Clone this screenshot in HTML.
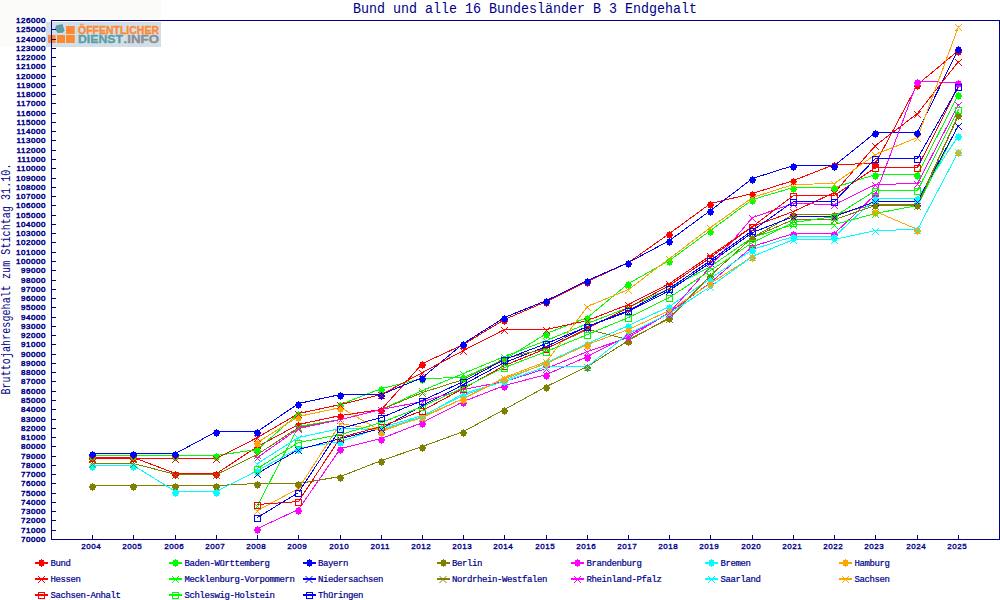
<!DOCTYPE html>
<html><head><meta charset="utf-8"><style>
html,body{margin:0;padding:0;background:#fff;}
body{width:1000px;height:600px;position:relative;overflow:hidden;font-family:"Liberation Mono",monospace;color:#000088;}
.title{position:absolute;left:0;width:1050px;top:0.7px;text-align:center;font-size:13.33px;line-height:16px;white-space:nowrap;transform:scaleY(1.1);transform-origin:0 0;}
.ytitle{position:absolute;left:8px;top:279px;width:300px;margin-left:-150px;margin-top:-8px;text-align:center;font-size:10px;letter-spacing:0.08px;line-height:16px;transform:rotate(-90deg) scaleY(1.2);white-space:nowrap;}
.yl{position:absolute;left:0;width:46px;text-align:right;font-family:"Liberation Sans",sans-serif;font-size:8px;letter-spacing:0.55px;font-weight:normal;-webkit-text-stroke:0.5px #000088;line-height:10px;}
.xl{position:absolute;top:542px;width:30px;text-align:center;font-family:"Liberation Sans",sans-serif;font-size:8px;letter-spacing:0.55px;font-weight:normal;-webkit-text-stroke:0.35px #000088;line-height:10px;}
.lt{position:absolute;font-size:9px;letter-spacing:-0.4px;font-weight:normal;-webkit-text-stroke:0.2px #000088;line-height:10px;white-space:nowrap;}
svg{position:absolute;left:0;top:0;}
</style></head><body>
<svg width="1000" height="600" viewBox="0 0 1000 600" style="position:absolute;left:0;top:0">
<rect x="0" y="0" width="161" height="47" fill="#fbfcfa"/><rect x="46" y="22" width="115" height="25" fill="#d3dfe6"/>
<rect x="66" y="26" width="8.7" height="8" fill="#ff8833"/>
<rect x="48" y="35" width="7.6" height="8" fill="#ff8833"/>
<rect x="57" y="35" width="8" height="8" fill="#ff8833"/>
<rect x="66" y="35" width="8.7" height="8" fill="#ff8833"/>
<path d="M56 25.5L62.5 24L64.5 30.5L63 32.7L57.5 33L55 29z" fill="#5b9ea8"/>
<text x="78" y="34" font-family="Liberation Sans" font-weight="bold" font-size="11" fill="#ff8833" stroke="#ff8833" stroke-width="0.35" textLength="81" lengthAdjust="spacingAndGlyphs">ÖFFENTLICHER</text>
<text x="78" y="43" font-family="Liberation Sans" font-weight="bold" font-size="11" fill="#5b9ea8" stroke="#5b9ea8" stroke-width="0.35" textLength="45" lengthAdjust="spacingAndGlyphs">DIENST</text>
<text x="123.5" y="43" font-family="Liberation Sans" font-weight="bold" font-size="11" fill="#8c8f94" stroke="#8c8f94" stroke-width="0.35" textLength="35.5" lengthAdjust="spacingAndGlyphs">.INFO</text>
</svg>
<svg width="1000" height="600" viewBox="0 0 1000 600">
<defs>
<path id="fc" d="M-0.5 -4h1v1h2v2h1v2h-1v2h-2v1h-1v-1h-2v-2h-1v-2h1v-2h2z" shape-rendering="crispEdges"/>
<path id="mx" d="M-3.5 -3.5h1v1h-1zM-3.5 2.5h1v1h-1zM-2.5 -2.5h1v1h-1zM-2.5 1.5h1v1h-1zM-1.5 -1.5h1v1h-1zM-1.5 0.5h1v1h-1zM-0.5 -0.5h1v1h-1zM0.5 0.5h1v1h-1zM0.5 -1.5h1v1h-1zM1.5 1.5h1v1h-1zM1.5 -2.5h1v1h-1zM2.5 2.5h1v1h-1zM2.5 -3.5h1v1h-1z" shape-rendering="crispEdges"/>
<rect id="sq" x="-3" y="-3" width="6" height="6" fill="none" stroke-width="1" shape-rendering="crispEdges"/>
</defs>
<rect x="51.5" y="20.5" width="948" height="519" fill="none" stroke="#000088" stroke-width="1" shape-rendering="crispEdges"/>
<line x1="52" y1="539.5" x2="56" y2="539.5" stroke="#000088" stroke-width="1" shape-rendering="crispEdges"/><line x1="52" y1="530.5" x2="56" y2="530.5" stroke="#000088" stroke-width="1" shape-rendering="crispEdges"/><line x1="52" y1="520.5" x2="56" y2="520.5" stroke="#000088" stroke-width="1" shape-rendering="crispEdges"/><line x1="52" y1="511.5" x2="56" y2="511.5" stroke="#000088" stroke-width="1" shape-rendering="crispEdges"/><line x1="52" y1="502.5" x2="56" y2="502.5" stroke="#000088" stroke-width="1" shape-rendering="crispEdges"/><line x1="52" y1="493.5" x2="56" y2="493.5" stroke="#000088" stroke-width="1" shape-rendering="crispEdges"/><line x1="52" y1="483.5" x2="56" y2="483.5" stroke="#000088" stroke-width="1" shape-rendering="crispEdges"/><line x1="52" y1="474.5" x2="56" y2="474.5" stroke="#000088" stroke-width="1" shape-rendering="crispEdges"/><line x1="52" y1="465.5" x2="56" y2="465.5" stroke="#000088" stroke-width="1" shape-rendering="crispEdges"/><line x1="52" y1="456.5" x2="56" y2="456.5" stroke="#000088" stroke-width="1" shape-rendering="crispEdges"/><line x1="52" y1="446.5" x2="56" y2="446.5" stroke="#000088" stroke-width="1" shape-rendering="crispEdges"/><line x1="52" y1="437.5" x2="56" y2="437.5" stroke="#000088" stroke-width="1" shape-rendering="crispEdges"/><line x1="52" y1="428.5" x2="56" y2="428.5" stroke="#000088" stroke-width="1" shape-rendering="crispEdges"/><line x1="52" y1="419.5" x2="56" y2="419.5" stroke="#000088" stroke-width="1" shape-rendering="crispEdges"/><line x1="52" y1="409.5" x2="56" y2="409.5" stroke="#000088" stroke-width="1" shape-rendering="crispEdges"/><line x1="52" y1="400.5" x2="56" y2="400.5" stroke="#000088" stroke-width="1" shape-rendering="crispEdges"/><line x1="52" y1="391.5" x2="56" y2="391.5" stroke="#000088" stroke-width="1" shape-rendering="crispEdges"/><line x1="52" y1="381.5" x2="56" y2="381.5" stroke="#000088" stroke-width="1" shape-rendering="crispEdges"/><line x1="52" y1="372.5" x2="56" y2="372.5" stroke="#000088" stroke-width="1" shape-rendering="crispEdges"/><line x1="52" y1="363.5" x2="56" y2="363.5" stroke="#000088" stroke-width="1" shape-rendering="crispEdges"/><line x1="52" y1="354.5" x2="56" y2="354.5" stroke="#000088" stroke-width="1" shape-rendering="crispEdges"/><line x1="52" y1="344.5" x2="56" y2="344.5" stroke="#000088" stroke-width="1" shape-rendering="crispEdges"/><line x1="52" y1="335.5" x2="56" y2="335.5" stroke="#000088" stroke-width="1" shape-rendering="crispEdges"/><line x1="52" y1="326.5" x2="56" y2="326.5" stroke="#000088" stroke-width="1" shape-rendering="crispEdges"/><line x1="52" y1="317.5" x2="56" y2="317.5" stroke="#000088" stroke-width="1" shape-rendering="crispEdges"/><line x1="52" y1="307.5" x2="56" y2="307.5" stroke="#000088" stroke-width="1" shape-rendering="crispEdges"/><line x1="52" y1="298.5" x2="56" y2="298.5" stroke="#000088" stroke-width="1" shape-rendering="crispEdges"/><line x1="52" y1="289.5" x2="56" y2="289.5" stroke="#000088" stroke-width="1" shape-rendering="crispEdges"/><line x1="52" y1="280.5" x2="56" y2="280.5" stroke="#000088" stroke-width="1" shape-rendering="crispEdges"/><line x1="52" y1="270.5" x2="56" y2="270.5" stroke="#000088" stroke-width="1" shape-rendering="crispEdges"/><line x1="52" y1="261.5" x2="56" y2="261.5" stroke="#000088" stroke-width="1" shape-rendering="crispEdges"/><line x1="52" y1="252.5" x2="56" y2="252.5" stroke="#000088" stroke-width="1" shape-rendering="crispEdges"/><line x1="52" y1="242.5" x2="56" y2="242.5" stroke="#000088" stroke-width="1" shape-rendering="crispEdges"/><line x1="52" y1="233.5" x2="56" y2="233.5" stroke="#000088" stroke-width="1" shape-rendering="crispEdges"/><line x1="52" y1="224.5" x2="56" y2="224.5" stroke="#000088" stroke-width="1" shape-rendering="crispEdges"/><line x1="52" y1="215.5" x2="56" y2="215.5" stroke="#000088" stroke-width="1" shape-rendering="crispEdges"/><line x1="52" y1="205.5" x2="56" y2="205.5" stroke="#000088" stroke-width="1" shape-rendering="crispEdges"/><line x1="52" y1="196.5" x2="56" y2="196.5" stroke="#000088" stroke-width="1" shape-rendering="crispEdges"/><line x1="52" y1="187.5" x2="56" y2="187.5" stroke="#000088" stroke-width="1" shape-rendering="crispEdges"/><line x1="52" y1="178.5" x2="56" y2="178.5" stroke="#000088" stroke-width="1" shape-rendering="crispEdges"/><line x1="52" y1="168.5" x2="56" y2="168.5" stroke="#000088" stroke-width="1" shape-rendering="crispEdges"/><line x1="52" y1="159.5" x2="56" y2="159.5" stroke="#000088" stroke-width="1" shape-rendering="crispEdges"/><line x1="52" y1="150.5" x2="56" y2="150.5" stroke="#000088" stroke-width="1" shape-rendering="crispEdges"/><line x1="52" y1="140.5" x2="56" y2="140.5" stroke="#000088" stroke-width="1" shape-rendering="crispEdges"/><line x1="52" y1="131.5" x2="56" y2="131.5" stroke="#000088" stroke-width="1" shape-rendering="crispEdges"/><line x1="52" y1="122.5" x2="56" y2="122.5" stroke="#000088" stroke-width="1" shape-rendering="crispEdges"/><line x1="52" y1="113.5" x2="56" y2="113.5" stroke="#000088" stroke-width="1" shape-rendering="crispEdges"/><line x1="52" y1="103.5" x2="56" y2="103.5" stroke="#000088" stroke-width="1" shape-rendering="crispEdges"/><line x1="52" y1="94.5" x2="56" y2="94.5" stroke="#000088" stroke-width="1" shape-rendering="crispEdges"/><line x1="52" y1="85.5" x2="56" y2="85.5" stroke="#000088" stroke-width="1" shape-rendering="crispEdges"/><line x1="52" y1="76.5" x2="56" y2="76.5" stroke="#000088" stroke-width="1" shape-rendering="crispEdges"/><line x1="52" y1="66.5" x2="56" y2="66.5" stroke="#000088" stroke-width="1" shape-rendering="crispEdges"/><line x1="52" y1="57.5" x2="56" y2="57.5" stroke="#000088" stroke-width="1" shape-rendering="crispEdges"/><line x1="52" y1="48.5" x2="56" y2="48.5" stroke="#000088" stroke-width="1" shape-rendering="crispEdges"/><line x1="52" y1="39.5" x2="56" y2="39.5" stroke="#000088" stroke-width="1" shape-rendering="crispEdges"/><line x1="52" y1="29.5" x2="56" y2="29.5" stroke="#000088" stroke-width="1" shape-rendering="crispEdges"/><line x1="52" y1="20.5" x2="56" y2="20.5" stroke="#000088" stroke-width="1" shape-rendering="crispEdges"/><line x1="92.5" y1="535" x2="92.5" y2="539" stroke="#000088" stroke-width="1" shape-rendering="crispEdges"/><line x1="133.5" y1="535" x2="133.5" y2="539" stroke="#000088" stroke-width="1" shape-rendering="crispEdges"/><line x1="175.5" y1="535" x2="175.5" y2="539" stroke="#000088" stroke-width="1" shape-rendering="crispEdges"/><line x1="216.5" y1="535" x2="216.5" y2="539" stroke="#000088" stroke-width="1" shape-rendering="crispEdges"/><line x1="257.5" y1="535" x2="257.5" y2="539" stroke="#000088" stroke-width="1" shape-rendering="crispEdges"/><line x1="298.5" y1="535" x2="298.5" y2="539" stroke="#000088" stroke-width="1" shape-rendering="crispEdges"/><line x1="340.5" y1="535" x2="340.5" y2="539" stroke="#000088" stroke-width="1" shape-rendering="crispEdges"/><line x1="381.5" y1="535" x2="381.5" y2="539" stroke="#000088" stroke-width="1" shape-rendering="crispEdges"/><line x1="422.5" y1="535" x2="422.5" y2="539" stroke="#000088" stroke-width="1" shape-rendering="crispEdges"/><line x1="463.5" y1="535" x2="463.5" y2="539" stroke="#000088" stroke-width="1" shape-rendering="crispEdges"/><line x1="504.5" y1="535" x2="504.5" y2="539" stroke="#000088" stroke-width="1" shape-rendering="crispEdges"/><line x1="546.5" y1="535" x2="546.5" y2="539" stroke="#000088" stroke-width="1" shape-rendering="crispEdges"/><line x1="587.5" y1="535" x2="587.5" y2="539" stroke="#000088" stroke-width="1" shape-rendering="crispEdges"/><line x1="628.5" y1="535" x2="628.5" y2="539" stroke="#000088" stroke-width="1" shape-rendering="crispEdges"/><line x1="669.5" y1="535" x2="669.5" y2="539" stroke="#000088" stroke-width="1" shape-rendering="crispEdges"/><line x1="710.5" y1="535" x2="710.5" y2="539" stroke="#000088" stroke-width="1" shape-rendering="crispEdges"/><line x1="752.5" y1="535" x2="752.5" y2="539" stroke="#000088" stroke-width="1" shape-rendering="crispEdges"/><line x1="793.5" y1="535" x2="793.5" y2="539" stroke="#000088" stroke-width="1" shape-rendering="crispEdges"/><line x1="834.5" y1="535" x2="834.5" y2="539" stroke="#000088" stroke-width="1" shape-rendering="crispEdges"/><line x1="875.5" y1="535" x2="875.5" y2="539" stroke="#000088" stroke-width="1" shape-rendering="crispEdges"/><line x1="917.5" y1="535" x2="917.5" y2="539" stroke="#000088" stroke-width="1" shape-rendering="crispEdges"/><line x1="958.5" y1="535" x2="958.5" y2="539" stroke="#000088" stroke-width="1" shape-rendering="crispEdges"/>
<path d="M92.5 457.5 L133.5 457.5 L175.5 473.5 L216.5 473.5 L257.5 446.5 L298.5 424.5 L340.5 415.5 L381.5 409.5 L422.5 363.5 L463.5 344.5 L504.5 319.5 L546.5 301.5 L587.5 281.5 L628.5 262.5 L669.5 233.5 L710.5 203.5 L752.5 193.5 L793.5 180.5 L834.5 164.5 L875.5 163.5 L917.5 84.5 L958.5 50.5 " stroke="#ff0000" stroke-width="1" fill="none" shape-rendering="crispEdges"/><path d="M92.5 455.5 L133.5 455.5 L175.5 455.5 L216.5 455.5 L257.5 449.5 L298.5 413.5 L340.5 404.5 L381.5 388.5 L422.5 378.5 L463.5 377.5 L504.5 359.5 L546.5 333.5 L587.5 317.5 L628.5 283.5 L669.5 260.5 L710.5 230.5 L752.5 199.5 L793.5 187.5 L834.5 187.5 L875.5 174.5 L917.5 174.5 L958.5 94.5 " stroke="#00ff00" stroke-width="1" fill="none" shape-rendering="crispEdges"/><path d="M92.5 453.5 L133.5 453.5 L175.5 453.5 L216.5 431.5 L257.5 431.5 L298.5 403.5 L340.5 394.5 L381.5 394.5 L422.5 377.5 L463.5 343.5 L504.5 317.5 L546.5 300.5 L587.5 280.5 L628.5 262.5 L669.5 240.5 L710.5 210.5 L752.5 178.5 L793.5 165.5 L834.5 165.5 L875.5 132.5 L917.5 132.5 L958.5 48.5 " stroke="#0000ff" stroke-width="1" fill="none" shape-rendering="crispEdges"/><path d="M92.5 485.5 L133.5 485.5 L175.5 485.5 L216.5 485.5 L257.5 483.5 L298.5 483.5 L340.5 476.5 L381.5 460.5 L422.5 446.5 L463.5 431.5 L504.5 409.5 L546.5 386.5 L587.5 366.5 L628.5 340.5 L669.5 317.5 L710.5 275.5 L752.5 237.5 L793.5 214.5 L834.5 214.5 L875.5 204.5 L917.5 204.5 L958.5 114.5 " stroke="#808000" stroke-width="1" fill="none" shape-rendering="crispEdges"/><path d="M257.5 528.5 L298.5 509.5 L340.5 448.5 L381.5 438.5 L422.5 422.5 L463.5 401.5 L504.5 385.5 L546.5 374.5 L587.5 356.5 L628.5 335.5 L669.5 312.5 L710.5 282.5 L752.5 246.5 L793.5 233.5 L834.5 233.5 L875.5 194.5 L917.5 81.5 L958.5 82.5 " stroke="#ff00ff" stroke-width="1" fill="none" shape-rendering="crispEdges"/><path d="M92.5 465.5 L133.5 465.5 L175.5 491.5 L216.5 491.5 L257.5 470.5 L298.5 448.5 L340.5 441.5 L381.5 427.5 L422.5 415.5 L463.5 395.5 L504.5 380.5 L546.5 362.5 L587.5 343.5 L628.5 325.5 L669.5 306.5 L710.5 278.5 L752.5 249.5 L793.5 236.5 L834.5 236.5 L875.5 198.5 L917.5 198.5 L958.5 135.5 " stroke="#00ffff" stroke-width="1" fill="none" shape-rendering="crispEdges"/><path d="M257.5 442.5 L298.5 416.5 L340.5 407.5 L381.5 431.5 L422.5 416.5 L463.5 398.5 L504.5 378.5 L546.5 363.5 L587.5 344.5 L628.5 329.5 L669.5 310.5 L710.5 283.5 L752.5 256.5 M875.5 211.5 L917.5 229.5 L958.5 151.5 " stroke="#ffa500" stroke-width="1" fill="none" shape-rendering="crispEdges"/><path d="M92.5 458.5 L133.5 458.5 L175.5 458.5 L216.5 458.5 L257.5 437.5 L298.5 413.5 L340.5 404.5 L381.5 394.5 L422.5 372.5 L463.5 350.5 L504.5 329.5 L546.5 329.5 L587.5 320.5 L628.5 304.5 L669.5 283.5 L710.5 255.5 L752.5 226.5 L793.5 211.5 L834.5 192.5 L875.5 145.5 L917.5 113.5 L958.5 61.5 " stroke="#ff0000" stroke-width="1" fill="none" shape-rendering="crispEdges"/><path d="M257.5 505.5 L298.5 426.5 L340.5 419.5 L381.5 409.5 L422.5 390.5 L463.5 373.5 L504.5 356.5 L546.5 340.5 L587.5 323.5 L628.5 307.5 L669.5 288.5 L710.5 266.5 L752.5 237.5 L793.5 224.5 L834.5 224.5 L875.5 213.5 L917.5 205.5 L958.5 125.5 " stroke="#00ff00" stroke-width="1" fill="none" shape-rendering="crispEdges"/><path d="M257.5 473.5 L298.5 449.5 L340.5 438.5 L381.5 428.5 L422.5 405.5 L463.5 384.5 L504.5 362.5 L546.5 346.5 L587.5 326.5 L628.5 311.5 L669.5 290.5 L710.5 262.5 L752.5 232.5 L793.5 216.5 L834.5 216.5 L875.5 201.5 L917.5 201.5 L958.5 125.5 " stroke="#0000ff" stroke-width="1" fill="none" shape-rendering="crispEdges"/><path d="M92.5 463.5 L133.5 463.5 L175.5 474.5 L216.5 474.5 L257.5 454.5 L298.5 427.5 L340.5 419.5 L381.5 409.5 L422.5 392.5 L463.5 379.5 L504.5 358.5 L546.5 348.5 L587.5 329.5 L628.5 339.5 L669.5 318.5 L710.5 275.5 L752.5 237.5 L793.5 219.5 L834.5 219.5 L875.5 205.5 L917.5 205.5 L958.5 115.5 " stroke="#808000" stroke-width="1" fill="none" shape-rendering="crispEdges"/><path d="M257.5 457.5 L298.5 428.5 L340.5 419.5 L381.5 409.5 L422.5 401.5 L463.5 389.5 L504.5 381.5 L546.5 368.5 L587.5 351.5 L628.5 337.5 L669.5 312.5 L710.5 266.5 L752.5 217.5 L793.5 203.5 L834.5 204.5 L875.5 184.5 L917.5 183.5 L958.5 104.5 " stroke="#ff00ff" stroke-width="1" fill="none" shape-rendering="crispEdges"/><path d="M257.5 463.5 L298.5 437.5 L340.5 428.5 L381.5 429.5 L422.5 416.5 L463.5 393.5 L504.5 381.5 L546.5 366.5 L587.5 366.5 L628.5 333.5 L669.5 313.5 L710.5 286.5 L752.5 256.5 L793.5 239.5 L834.5 239.5 L875.5 230.5 L917.5 229.5 L958.5 151.5 " stroke="#00ffff" stroke-width="1" fill="none" shape-rendering="crispEdges"/><path d="M257.5 510.5 L298.5 488.5 L340.5 423.5 L381.5 430.5 L422.5 417.5 L463.5 398.5 L504.5 377.5 L546.5 361.5 L587.5 306.5 L628.5 289.5 L669.5 258.5 L710.5 227.5 L752.5 197.5 L793.5 184.5 L834.5 183.5 L875.5 154.5 L917.5 137.5 L958.5 26.5 " stroke="#ffa500" stroke-width="1" fill="none" shape-rendering="crispEdges"/><path d="M257.5 504.5 L298.5 501.5 L340.5 437.5 L381.5 426.5 L422.5 410.5 L463.5 388.5 L504.5 365.5 L546.5 348.5 L587.5 328.5 L628.5 307.5 L669.5 285.5 L710.5 257.5 L752.5 226.5 L793.5 195.5 L834.5 195.5 L875.5 167.5 L917.5 167.5 L958.5 86.5 " stroke="#ff0000" stroke-width="1" fill="none" shape-rendering="crispEdges"/><path d="M257.5 468.5 L298.5 442.5 L340.5 434.5 L381.5 422.5 L422.5 406.5 L463.5 387.5 L504.5 367.5 L546.5 351.5 L587.5 334.5 L628.5 317.5 L669.5 297.5 L710.5 270.5 L752.5 242.5 L793.5 222.5 L834.5 216.5 L875.5 190.5 L917.5 190.5 L958.5 109.5 " stroke="#00ff00" stroke-width="1" fill="none" shape-rendering="crispEdges"/><path d="M257.5 517.5 L298.5 492.5 L340.5 428.5 L381.5 417.5 L422.5 400.5 L463.5 381.5 L504.5 359.5 L546.5 343.5 L587.5 326.5 L628.5 310.5 L669.5 288.5 L710.5 260.5 L752.5 230.5 L793.5 201.5 L834.5 201.5 L875.5 158.5 L917.5 158.5 L958.5 86.5 " stroke="#0000ff" stroke-width="1" fill="none" shape-rendering="crispEdges"/><use href="#fc" x="92.5" y="459" fill="#ff0000"/><use href="#fc" x="133.5" y="459" fill="#ff0000"/><use href="#fc" x="175.5" y="475" fill="#ff0000"/><use href="#fc" x="216.5" y="475" fill="#ff0000"/><use href="#fc" x="257.5" y="448" fill="#ff0000"/><use href="#fc" x="298.5" y="426" fill="#ff0000"/><use href="#fc" x="340.5" y="417" fill="#ff0000"/><use href="#fc" x="381.5" y="411" fill="#ff0000"/><use href="#fc" x="422.5" y="365" fill="#ff0000"/><use href="#fc" x="463.5" y="346" fill="#ff0000"/><use href="#fc" x="504.5" y="321" fill="#ff0000"/><use href="#fc" x="546.5" y="303" fill="#ff0000"/><use href="#fc" x="587.5" y="283" fill="#ff0000"/><use href="#fc" x="628.5" y="264" fill="#ff0000"/><use href="#fc" x="669.5" y="235" fill="#ff0000"/><use href="#fc" x="710.5" y="205" fill="#ff0000"/><use href="#fc" x="752.5" y="195" fill="#ff0000"/><use href="#fc" x="793.5" y="182" fill="#ff0000"/><use href="#fc" x="834.5" y="166" fill="#ff0000"/><use href="#fc" x="875.5" y="165" fill="#ff0000"/><use href="#fc" x="917.5" y="86" fill="#ff0000"/><use href="#fc" x="958.5" y="52" fill="#ff0000"/><use href="#fc" x="92.5" y="457" fill="#00ff00"/><use href="#fc" x="133.5" y="457" fill="#00ff00"/><use href="#fc" x="175.5" y="457" fill="#00ff00"/><use href="#fc" x="216.5" y="457" fill="#00ff00"/><use href="#fc" x="257.5" y="451" fill="#00ff00"/><use href="#fc" x="298.5" y="415" fill="#00ff00"/><use href="#fc" x="340.5" y="406" fill="#00ff00"/><use href="#fc" x="381.5" y="390" fill="#00ff00"/><use href="#fc" x="422.5" y="380" fill="#00ff00"/><use href="#fc" x="463.5" y="379" fill="#00ff00"/><use href="#fc" x="504.5" y="361" fill="#00ff00"/><use href="#fc" x="546.5" y="335" fill="#00ff00"/><use href="#fc" x="587.5" y="319" fill="#00ff00"/><use href="#fc" x="628.5" y="285" fill="#00ff00"/><use href="#fc" x="669.5" y="262" fill="#00ff00"/><use href="#fc" x="710.5" y="232" fill="#00ff00"/><use href="#fc" x="752.5" y="201" fill="#00ff00"/><use href="#fc" x="793.5" y="189" fill="#00ff00"/><use href="#fc" x="834.5" y="189" fill="#00ff00"/><use href="#fc" x="875.5" y="176" fill="#00ff00"/><use href="#fc" x="917.5" y="176" fill="#00ff00"/><use href="#fc" x="958.5" y="96" fill="#00ff00"/><use href="#fc" x="92.5" y="455" fill="#0000ff"/><use href="#fc" x="133.5" y="455" fill="#0000ff"/><use href="#fc" x="175.5" y="455" fill="#0000ff"/><use href="#fc" x="216.5" y="433" fill="#0000ff"/><use href="#fc" x="257.5" y="433" fill="#0000ff"/><use href="#fc" x="298.5" y="405" fill="#0000ff"/><use href="#fc" x="340.5" y="396" fill="#0000ff"/><use href="#fc" x="381.5" y="396" fill="#0000ff"/><use href="#fc" x="422.5" y="379" fill="#0000ff"/><use href="#fc" x="463.5" y="345" fill="#0000ff"/><use href="#fc" x="504.5" y="319" fill="#0000ff"/><use href="#fc" x="546.5" y="302" fill="#0000ff"/><use href="#fc" x="587.5" y="282" fill="#0000ff"/><use href="#fc" x="628.5" y="264" fill="#0000ff"/><use href="#fc" x="669.5" y="242" fill="#0000ff"/><use href="#fc" x="710.5" y="212" fill="#0000ff"/><use href="#fc" x="752.5" y="180" fill="#0000ff"/><use href="#fc" x="793.5" y="167" fill="#0000ff"/><use href="#fc" x="834.5" y="167" fill="#0000ff"/><use href="#fc" x="875.5" y="134" fill="#0000ff"/><use href="#fc" x="917.5" y="134" fill="#0000ff"/><use href="#fc" x="958.5" y="50" fill="#0000ff"/><use href="#fc" x="92.5" y="487" fill="#808000"/><use href="#fc" x="133.5" y="487" fill="#808000"/><use href="#fc" x="175.5" y="487" fill="#808000"/><use href="#fc" x="216.5" y="487" fill="#808000"/><use href="#fc" x="257.5" y="485" fill="#808000"/><use href="#fc" x="298.5" y="485" fill="#808000"/><use href="#fc" x="340.5" y="478" fill="#808000"/><use href="#fc" x="381.5" y="462" fill="#808000"/><use href="#fc" x="422.5" y="448" fill="#808000"/><use href="#fc" x="463.5" y="433" fill="#808000"/><use href="#fc" x="504.5" y="411" fill="#808000"/><use href="#fc" x="546.5" y="388" fill="#808000"/><use href="#fc" x="587.5" y="368" fill="#808000"/><use href="#fc" x="628.5" y="342" fill="#808000"/><use href="#fc" x="669.5" y="319" fill="#808000"/><use href="#fc" x="710.5" y="277" fill="#808000"/><use href="#fc" x="752.5" y="239" fill="#808000"/><use href="#fc" x="793.5" y="216" fill="#808000"/><use href="#fc" x="834.5" y="216" fill="#808000"/><use href="#fc" x="875.5" y="206" fill="#808000"/><use href="#fc" x="917.5" y="206" fill="#808000"/><use href="#fc" x="958.5" y="116" fill="#808000"/><use href="#fc" x="257.5" y="530" fill="#ff00ff"/><use href="#fc" x="298.5" y="511" fill="#ff00ff"/><use href="#fc" x="340.5" y="450" fill="#ff00ff"/><use href="#fc" x="381.5" y="440" fill="#ff00ff"/><use href="#fc" x="422.5" y="424" fill="#ff00ff"/><use href="#fc" x="463.5" y="403" fill="#ff00ff"/><use href="#fc" x="504.5" y="387" fill="#ff00ff"/><use href="#fc" x="546.5" y="376" fill="#ff00ff"/><use href="#fc" x="587.5" y="358" fill="#ff00ff"/><use href="#fc" x="628.5" y="337" fill="#ff00ff"/><use href="#fc" x="669.5" y="314" fill="#ff00ff"/><use href="#fc" x="710.5" y="284" fill="#ff00ff"/><use href="#fc" x="752.5" y="248" fill="#ff00ff"/><use href="#fc" x="793.5" y="235" fill="#ff00ff"/><use href="#fc" x="834.5" y="235" fill="#ff00ff"/><use href="#fc" x="875.5" y="196" fill="#ff00ff"/><use href="#fc" x="917.5" y="83" fill="#ff00ff"/><use href="#fc" x="958.5" y="84" fill="#ff00ff"/><use href="#fc" x="92.5" y="467" fill="#00ffff"/><use href="#fc" x="133.5" y="467" fill="#00ffff"/><use href="#fc" x="175.5" y="493" fill="#00ffff"/><use href="#fc" x="216.5" y="493" fill="#00ffff"/><use href="#fc" x="257.5" y="472" fill="#00ffff"/><use href="#fc" x="298.5" y="450" fill="#00ffff"/><use href="#fc" x="340.5" y="443" fill="#00ffff"/><use href="#fc" x="381.5" y="429" fill="#00ffff"/><use href="#fc" x="422.5" y="417" fill="#00ffff"/><use href="#fc" x="463.5" y="397" fill="#00ffff"/><use href="#fc" x="504.5" y="382" fill="#00ffff"/><use href="#fc" x="546.5" y="364" fill="#00ffff"/><use href="#fc" x="587.5" y="345" fill="#00ffff"/><use href="#fc" x="628.5" y="327" fill="#00ffff"/><use href="#fc" x="669.5" y="308" fill="#00ffff"/><use href="#fc" x="710.5" y="280" fill="#00ffff"/><use href="#fc" x="752.5" y="251" fill="#00ffff"/><use href="#fc" x="793.5" y="238" fill="#00ffff"/><use href="#fc" x="834.5" y="238" fill="#00ffff"/><use href="#fc" x="875.5" y="200" fill="#00ffff"/><use href="#fc" x="917.5" y="200" fill="#00ffff"/><use href="#fc" x="958.5" y="137" fill="#00ffff"/><use href="#fc" x="257.5" y="444" fill="#ffa500"/><use href="#fc" x="298.5" y="418" fill="#ffa500"/><use href="#fc" x="340.5" y="409" fill="#ffa500"/><use href="#fc" x="381.5" y="433" fill="#ffa500"/><use href="#fc" x="422.5" y="418" fill="#ffa500"/><use href="#fc" x="463.5" y="400" fill="#ffa500"/><use href="#fc" x="504.5" y="380" fill="#ffa500"/><use href="#fc" x="546.5" y="365" fill="#ffa500"/><use href="#fc" x="587.5" y="346" fill="#ffa500"/><use href="#fc" x="628.5" y="331" fill="#ffa500"/><use href="#fc" x="669.5" y="312" fill="#ffa500"/><use href="#fc" x="710.5" y="285" fill="#ffa500"/><use href="#fc" x="752.5" y="258" fill="#ffa500"/><use href="#fc" x="875.5" y="213" fill="#ffa500"/><use href="#fc" x="917.5" y="231" fill="#ffa500"/><use href="#fc" x="958.5" y="153" fill="#ffa500"/><use href="#mx" x="92.5" y="459.5" fill="#ff0000"/><use href="#mx" x="133.5" y="459.5" fill="#ff0000"/><use href="#mx" x="175.5" y="459.5" fill="#ff0000"/><use href="#mx" x="216.5" y="459.5" fill="#ff0000"/><use href="#mx" x="257.5" y="438.5" fill="#ff0000"/><use href="#mx" x="298.5" y="414.5" fill="#ff0000"/><use href="#mx" x="340.5" y="405.5" fill="#ff0000"/><use href="#mx" x="381.5" y="395.5" fill="#ff0000"/><use href="#mx" x="422.5" y="373.5" fill="#ff0000"/><use href="#mx" x="463.5" y="351.5" fill="#ff0000"/><use href="#mx" x="504.5" y="330.5" fill="#ff0000"/><use href="#mx" x="546.5" y="330.5" fill="#ff0000"/><use href="#mx" x="587.5" y="321.5" fill="#ff0000"/><use href="#mx" x="628.5" y="305.5" fill="#ff0000"/><use href="#mx" x="669.5" y="284.5" fill="#ff0000"/><use href="#mx" x="710.5" y="256.5" fill="#ff0000"/><use href="#mx" x="752.5" y="227.5" fill="#ff0000"/><use href="#mx" x="793.5" y="212.5" fill="#ff0000"/><use href="#mx" x="834.5" y="193.5" fill="#ff0000"/><use href="#mx" x="875.5" y="146.5" fill="#ff0000"/><use href="#mx" x="917.5" y="114.5" fill="#ff0000"/><use href="#mx" x="958.5" y="62.5" fill="#ff0000"/><use href="#mx" x="257.5" y="506.5" fill="#00ff00"/><use href="#mx" x="298.5" y="427.5" fill="#00ff00"/><use href="#mx" x="340.5" y="420.5" fill="#00ff00"/><use href="#mx" x="381.5" y="410.5" fill="#00ff00"/><use href="#mx" x="422.5" y="391.5" fill="#00ff00"/><use href="#mx" x="463.5" y="374.5" fill="#00ff00"/><use href="#mx" x="504.5" y="357.5" fill="#00ff00"/><use href="#mx" x="546.5" y="341.5" fill="#00ff00"/><use href="#mx" x="587.5" y="324.5" fill="#00ff00"/><use href="#mx" x="628.5" y="308.5" fill="#00ff00"/><use href="#mx" x="669.5" y="289.5" fill="#00ff00"/><use href="#mx" x="710.5" y="267.5" fill="#00ff00"/><use href="#mx" x="752.5" y="238.5" fill="#00ff00"/><use href="#mx" x="793.5" y="225.5" fill="#00ff00"/><use href="#mx" x="834.5" y="225.5" fill="#00ff00"/><use href="#mx" x="875.5" y="214.5" fill="#00ff00"/><use href="#mx" x="917.5" y="206.5" fill="#00ff00"/><use href="#mx" x="958.5" y="126.5" fill="#00ff00"/><use href="#mx" x="257.5" y="474.5" fill="#0000ff"/><use href="#mx" x="298.5" y="450.5" fill="#0000ff"/><use href="#mx" x="340.5" y="439.5" fill="#0000ff"/><use href="#mx" x="381.5" y="429.5" fill="#0000ff"/><use href="#mx" x="422.5" y="406.5" fill="#0000ff"/><use href="#mx" x="463.5" y="385.5" fill="#0000ff"/><use href="#mx" x="504.5" y="363.5" fill="#0000ff"/><use href="#mx" x="546.5" y="347.5" fill="#0000ff"/><use href="#mx" x="587.5" y="327.5" fill="#0000ff"/><use href="#mx" x="628.5" y="312.5" fill="#0000ff"/><use href="#mx" x="669.5" y="291.5" fill="#0000ff"/><use href="#mx" x="710.5" y="263.5" fill="#0000ff"/><use href="#mx" x="752.5" y="233.5" fill="#0000ff"/><use href="#mx" x="793.5" y="217.5" fill="#0000ff"/><use href="#mx" x="834.5" y="217.5" fill="#0000ff"/><use href="#mx" x="875.5" y="202.5" fill="#0000ff"/><use href="#mx" x="917.5" y="202.5" fill="#0000ff"/><use href="#mx" x="958.5" y="126.5" fill="#0000ff"/><use href="#mx" x="92.5" y="464.5" fill="#808000"/><use href="#mx" x="133.5" y="464.5" fill="#808000"/><use href="#mx" x="175.5" y="475.5" fill="#808000"/><use href="#mx" x="216.5" y="475.5" fill="#808000"/><use href="#mx" x="257.5" y="455.5" fill="#808000"/><use href="#mx" x="298.5" y="428.5" fill="#808000"/><use href="#mx" x="340.5" y="420.5" fill="#808000"/><use href="#mx" x="381.5" y="410.5" fill="#808000"/><use href="#mx" x="422.5" y="393.5" fill="#808000"/><use href="#mx" x="463.5" y="380.5" fill="#808000"/><use href="#mx" x="504.5" y="359.5" fill="#808000"/><use href="#mx" x="546.5" y="349.5" fill="#808000"/><use href="#mx" x="587.5" y="330.5" fill="#808000"/><use href="#mx" x="628.5" y="340.5" fill="#808000"/><use href="#mx" x="669.5" y="319.5" fill="#808000"/><use href="#mx" x="710.5" y="276.5" fill="#808000"/><use href="#mx" x="752.5" y="238.5" fill="#808000"/><use href="#mx" x="793.5" y="220.5" fill="#808000"/><use href="#mx" x="834.5" y="220.5" fill="#808000"/><use href="#mx" x="875.5" y="206.5" fill="#808000"/><use href="#mx" x="917.5" y="206.5" fill="#808000"/><use href="#mx" x="958.5" y="116.5" fill="#808000"/><use href="#mx" x="257.5" y="458.5" fill="#ff00ff"/><use href="#mx" x="298.5" y="429.5" fill="#ff00ff"/><use href="#mx" x="340.5" y="420.5" fill="#ff00ff"/><use href="#mx" x="381.5" y="410.5" fill="#ff00ff"/><use href="#mx" x="422.5" y="402.5" fill="#ff00ff"/><use href="#mx" x="463.5" y="390.5" fill="#ff00ff"/><use href="#mx" x="504.5" y="382.5" fill="#ff00ff"/><use href="#mx" x="546.5" y="369.5" fill="#ff00ff"/><use href="#mx" x="587.5" y="352.5" fill="#ff00ff"/><use href="#mx" x="628.5" y="338.5" fill="#ff00ff"/><use href="#mx" x="669.5" y="313.5" fill="#ff00ff"/><use href="#mx" x="710.5" y="267.5" fill="#ff00ff"/><use href="#mx" x="752.5" y="218.5" fill="#ff00ff"/><use href="#mx" x="793.5" y="204.5" fill="#ff00ff"/><use href="#mx" x="834.5" y="205.5" fill="#ff00ff"/><use href="#mx" x="875.5" y="185.5" fill="#ff00ff"/><use href="#mx" x="917.5" y="184.5" fill="#ff00ff"/><use href="#mx" x="958.5" y="105.5" fill="#ff00ff"/><use href="#mx" x="257.5" y="464.5" fill="#00ffff"/><use href="#mx" x="298.5" y="438.5" fill="#00ffff"/><use href="#mx" x="340.5" y="429.5" fill="#00ffff"/><use href="#mx" x="381.5" y="430.5" fill="#00ffff"/><use href="#mx" x="422.5" y="417.5" fill="#00ffff"/><use href="#mx" x="463.5" y="394.5" fill="#00ffff"/><use href="#mx" x="504.5" y="382.5" fill="#00ffff"/><use href="#mx" x="546.5" y="367.5" fill="#00ffff"/><use href="#mx" x="587.5" y="367.5" fill="#00ffff"/><use href="#mx" x="628.5" y="334.5" fill="#00ffff"/><use href="#mx" x="669.5" y="314.5" fill="#00ffff"/><use href="#mx" x="710.5" y="287.5" fill="#00ffff"/><use href="#mx" x="752.5" y="257.5" fill="#00ffff"/><use href="#mx" x="793.5" y="240.5" fill="#00ffff"/><use href="#mx" x="834.5" y="240.5" fill="#00ffff"/><use href="#mx" x="875.5" y="231.5" fill="#00ffff"/><use href="#mx" x="917.5" y="230.5" fill="#00ffff"/><use href="#mx" x="958.5" y="152.5" fill="#00ffff"/><use href="#mx" x="257.5" y="511.5" fill="#ffa500"/><use href="#mx" x="298.5" y="489.5" fill="#ffa500"/><use href="#mx" x="340.5" y="424.5" fill="#ffa500"/><use href="#mx" x="381.5" y="431.5" fill="#ffa500"/><use href="#mx" x="422.5" y="418.5" fill="#ffa500"/><use href="#mx" x="463.5" y="399.5" fill="#ffa500"/><use href="#mx" x="504.5" y="378.5" fill="#ffa500"/><use href="#mx" x="546.5" y="362.5" fill="#ffa500"/><use href="#mx" x="587.5" y="307.5" fill="#ffa500"/><use href="#mx" x="628.5" y="290.5" fill="#ffa500"/><use href="#mx" x="669.5" y="259.5" fill="#ffa500"/><use href="#mx" x="710.5" y="228.5" fill="#ffa500"/><use href="#mx" x="752.5" y="198.5" fill="#ffa500"/><use href="#mx" x="793.5" y="185.5" fill="#ffa500"/><use href="#mx" x="834.5" y="184.5" fill="#ffa500"/><use href="#mx" x="875.5" y="155.5" fill="#ffa500"/><use href="#mx" x="917.5" y="138.5" fill="#ffa500"/><use href="#mx" x="958.5" y="27.5" fill="#ffa500"/><use href="#sq" x="257.5" y="505.5" stroke="#ff0000"/><use href="#sq" x="298.5" y="502.5" stroke="#ff0000"/><use href="#sq" x="340.5" y="438.5" stroke="#ff0000"/><use href="#sq" x="381.5" y="427.5" stroke="#ff0000"/><use href="#sq" x="422.5" y="411.5" stroke="#ff0000"/><use href="#sq" x="463.5" y="389.5" stroke="#ff0000"/><use href="#sq" x="504.5" y="366.5" stroke="#ff0000"/><use href="#sq" x="546.5" y="349.5" stroke="#ff0000"/><use href="#sq" x="587.5" y="329.5" stroke="#ff0000"/><use href="#sq" x="628.5" y="308.5" stroke="#ff0000"/><use href="#sq" x="669.5" y="286.5" stroke="#ff0000"/><use href="#sq" x="710.5" y="258.5" stroke="#ff0000"/><use href="#sq" x="752.5" y="227.5" stroke="#ff0000"/><use href="#sq" x="793.5" y="196.5" stroke="#ff0000"/><use href="#sq" x="834.5" y="196.5" stroke="#ff0000"/><use href="#sq" x="875.5" y="168.5" stroke="#ff0000"/><use href="#sq" x="917.5" y="168.5" stroke="#ff0000"/><use href="#sq" x="958.5" y="87.5" stroke="#ff0000"/><use href="#sq" x="257.5" y="469.5" stroke="#00ff00"/><use href="#sq" x="298.5" y="443.5" stroke="#00ff00"/><use href="#sq" x="340.5" y="435.5" stroke="#00ff00"/><use href="#sq" x="381.5" y="423.5" stroke="#00ff00"/><use href="#sq" x="422.5" y="407.5" stroke="#00ff00"/><use href="#sq" x="463.5" y="388.5" stroke="#00ff00"/><use href="#sq" x="504.5" y="368.5" stroke="#00ff00"/><use href="#sq" x="546.5" y="352.5" stroke="#00ff00"/><use href="#sq" x="587.5" y="335.5" stroke="#00ff00"/><use href="#sq" x="628.5" y="318.5" stroke="#00ff00"/><use href="#sq" x="669.5" y="298.5" stroke="#00ff00"/><use href="#sq" x="710.5" y="271.5" stroke="#00ff00"/><use href="#sq" x="752.5" y="243.5" stroke="#00ff00"/><use href="#sq" x="793.5" y="223.5" stroke="#00ff00"/><use href="#sq" x="834.5" y="217.5" stroke="#00ff00"/><use href="#sq" x="875.5" y="191.5" stroke="#00ff00"/><use href="#sq" x="917.5" y="191.5" stroke="#00ff00"/><use href="#sq" x="958.5" y="110.5" stroke="#00ff00"/><use href="#sq" x="257.5" y="518.5" stroke="#0000ff"/><use href="#sq" x="298.5" y="493.5" stroke="#0000ff"/><use href="#sq" x="340.5" y="429.5" stroke="#0000ff"/><use href="#sq" x="381.5" y="418.5" stroke="#0000ff"/><use href="#sq" x="422.5" y="401.5" stroke="#0000ff"/><use href="#sq" x="463.5" y="382.5" stroke="#0000ff"/><use href="#sq" x="504.5" y="360.5" stroke="#0000ff"/><use href="#sq" x="546.5" y="344.5" stroke="#0000ff"/><use href="#sq" x="587.5" y="327.5" stroke="#0000ff"/><use href="#sq" x="628.5" y="311.5" stroke="#0000ff"/><use href="#sq" x="669.5" y="289.5" stroke="#0000ff"/><use href="#sq" x="710.5" y="261.5" stroke="#0000ff"/><use href="#sq" x="752.5" y="231.5" stroke="#0000ff"/><use href="#sq" x="793.5" y="202.5" stroke="#0000ff"/><use href="#sq" x="834.5" y="202.5" stroke="#0000ff"/><use href="#sq" x="875.5" y="159.5" stroke="#0000ff"/><use href="#sq" x="917.5" y="159.5" stroke="#0000ff"/><use href="#sq" x="958.5" y="87.5" stroke="#0000ff"/>
<rect x="35" y="562" width="13" height="2" fill="#ff0000" shape-rendering="crispEdges"/><use href="#fc" x="41.5" y="563" fill="#ff0000"/><rect x="169" y="562" width="13" height="2" fill="#00ff00" shape-rendering="crispEdges"/><use href="#fc" x="175.5" y="563" fill="#00ff00"/><rect x="302.5" y="562" width="13" height="2" fill="#0000ff" shape-rendering="crispEdges"/><use href="#fc" x="309.0" y="563" fill="#0000ff"/><rect x="436.5" y="562" width="13" height="2" fill="#808000" shape-rendering="crispEdges"/><use href="#fc" x="443.0" y="563" fill="#808000"/><rect x="571" y="562" width="13" height="2" fill="#ff00ff" shape-rendering="crispEdges"/><use href="#fc" x="577.5" y="563" fill="#ff00ff"/><rect x="705" y="562" width="13" height="2" fill="#00ffff" shape-rendering="crispEdges"/><use href="#fc" x="711.5" y="563" fill="#00ffff"/><rect x="839" y="562" width="13" height="2" fill="#ffa500" shape-rendering="crispEdges"/><use href="#fc" x="845.5" y="563" fill="#ffa500"/><rect x="35" y="578" width="13" height="2" fill="#ff0000" shape-rendering="crispEdges"/><path d="M38.0 576L45.0 583M38.0 583L45.0 576" stroke="#ff0000" stroke-width="1"/><rect x="169" y="578" width="13" height="2" fill="#00ff00" shape-rendering="crispEdges"/><path d="M172.0 576L179.0 583M172.0 583L179.0 576" stroke="#00ff00" stroke-width="1"/><rect x="302.5" y="578" width="13" height="2" fill="#0000ff" shape-rendering="crispEdges"/><path d="M305.5 576L312.5 583M305.5 583L312.5 576" stroke="#0000ff" stroke-width="1"/><rect x="436.5" y="578" width="13" height="2" fill="#808000" shape-rendering="crispEdges"/><path d="M439.5 576L446.5 583M439.5 583L446.5 576" stroke="#808000" stroke-width="1"/><rect x="571" y="578" width="13" height="2" fill="#ff00ff" shape-rendering="crispEdges"/><path d="M574.0 576L581.0 583M574.0 583L581.0 576" stroke="#ff00ff" stroke-width="1"/><rect x="705" y="578" width="13" height="2" fill="#00ffff" shape-rendering="crispEdges"/><path d="M708.0 576L715.0 583M708.0 583L715.0 576" stroke="#00ffff" stroke-width="1"/><rect x="839" y="578" width="13" height="2" fill="#ffa500" shape-rendering="crispEdges"/><path d="M842.0 576L849.0 583M842.0 583L849.0 576" stroke="#ffa500" stroke-width="1"/><rect x="35" y="594" width="13" height="2" fill="#ff0000" shape-rendering="crispEdges"/><rect x="38.5" y="592" width="6" height="6" stroke="#ff0000" stroke-width="1" fill="none" shape-rendering="crispEdges"/><rect x="169" y="594" width="13" height="2" fill="#00ff00" shape-rendering="crispEdges"/><rect x="172.5" y="592" width="6" height="6" stroke="#00ff00" stroke-width="1" fill="none" shape-rendering="crispEdges"/><rect x="302.5" y="594" width="13" height="2" fill="#0000ff" shape-rendering="crispEdges"/><rect x="306.0" y="592" width="6" height="6" stroke="#0000ff" stroke-width="1" fill="none" shape-rendering="crispEdges"/>
</svg>
<div class="title">Bund und alle 16 Bundesländer B 3 Endgehalt</div>
<div class="ytitle">Bruttojahresgehalt zum Stichtag 31.10.</div>
<div class="yl" style="top:535px">70000</div><div class="yl" style="top:526px">71000</div><div class="yl" style="top:516px">72000</div><div class="yl" style="top:507px">73000</div><div class="yl" style="top:498px">74000</div><div class="yl" style="top:489px">75000</div><div class="yl" style="top:479px">76000</div><div class="yl" style="top:470px">77000</div><div class="yl" style="top:461px">78000</div><div class="yl" style="top:452px">79000</div><div class="yl" style="top:442px">80000</div><div class="yl" style="top:433px">81000</div><div class="yl" style="top:424px">82000</div><div class="yl" style="top:415px">83000</div><div class="yl" style="top:405px">84000</div><div class="yl" style="top:396px">85000</div><div class="yl" style="top:387px">86000</div><div class="yl" style="top:377px">87000</div><div class="yl" style="top:368px">88000</div><div class="yl" style="top:359px">89000</div><div class="yl" style="top:350px">90000</div><div class="yl" style="top:340px">91000</div><div class="yl" style="top:331px">92000</div><div class="yl" style="top:322px">93000</div><div class="yl" style="top:313px">94000</div><div class="yl" style="top:303px">95000</div><div class="yl" style="top:294px">96000</div><div class="yl" style="top:285px">97000</div><div class="yl" style="top:276px">98000</div><div class="yl" style="top:266px">99000</div><div class="yl" style="top:257px">100000</div><div class="yl" style="top:248px">101000</div><div class="yl" style="top:238px">102000</div><div class="yl" style="top:229px">103000</div><div class="yl" style="top:220px">104000</div><div class="yl" style="top:211px">105000</div><div class="yl" style="top:201px">106000</div><div class="yl" style="top:192px">107000</div><div class="yl" style="top:183px">108000</div><div class="yl" style="top:174px">109000</div><div class="yl" style="top:164px">110000</div><div class="yl" style="top:155px">111000</div><div class="yl" style="top:146px">112000</div><div class="yl" style="top:136px">113000</div><div class="yl" style="top:127px">114000</div><div class="yl" style="top:118px">115000</div><div class="yl" style="top:109px">116000</div><div class="yl" style="top:99px">117000</div><div class="yl" style="top:90px">118000</div><div class="yl" style="top:81px">119000</div><div class="yl" style="top:72px">120000</div><div class="yl" style="top:62px">121000</div><div class="yl" style="top:53px">122000</div><div class="yl" style="top:44px">123000</div><div class="yl" style="top:35px">124000</div><div class="yl" style="top:25px">125000</div><div class="yl" style="top:16px">126000</div>
<div class="xl" style="left:76.3px">2004</div><div class="xl" style="left:117.3px">2005</div><div class="xl" style="left:159.3px">2006</div><div class="xl" style="left:200.3px">2007</div><div class="xl" style="left:241.3px">2008</div><div class="xl" style="left:282.3px">2009</div><div class="xl" style="left:324.3px">2010</div><div class="xl" style="left:365.3px">2011</div><div class="xl" style="left:406.3px">2012</div><div class="xl" style="left:447.3px">2013</div><div class="xl" style="left:488.3px">2014</div><div class="xl" style="left:530.3px">2015</div><div class="xl" style="left:571.3px">2016</div><div class="xl" style="left:612.3px">2017</div><div class="xl" style="left:653.3px">2018</div><div class="xl" style="left:694.3px">2019</div><div class="xl" style="left:736.3px">2020</div><div class="xl" style="left:777.3px">2021</div><div class="xl" style="left:818.3px">2022</div><div class="xl" style="left:859.3px">2023</div><div class="xl" style="left:901.3px">2024</div><div class="xl" style="left:942.3px">2025</div>
<div class="lt" style="left:50.5px;top:559px">Bund</div><div class="lt" style="left:184.5px;top:559px">Baden-Württemberg</div><div class="lt" style="left:318.0px;top:559px">Bayern</div><div class="lt" style="left:452.0px;top:559px">Berlin</div><div class="lt" style="left:586.5px;top:559px">Brandenburg</div><div class="lt" style="left:720.5px;top:559px">Bremen</div><div class="lt" style="left:854.5px;top:559px">Hamburg</div><div class="lt" style="left:50.5px;top:575px">Hessen</div><div class="lt" style="left:184.5px;top:575px">Mecklenburg-Vorpommern</div><div class="lt" style="left:318.0px;top:575px">Niedersachsen</div><div class="lt" style="left:452.0px;top:575px">Nordrhein-Westfalen</div><div class="lt" style="left:586.5px;top:575px">Rheinland-Pfalz</div><div class="lt" style="left:720.5px;top:575px">Saarland</div><div class="lt" style="left:854.5px;top:575px">Sachsen</div><div class="lt" style="left:50.5px;top:591px">Sachsen-Anhalt</div><div class="lt" style="left:184.5px;top:591px">Schleswig-Holstein</div><div class="lt" style="left:318.0px;top:591px">Thüringen</div>
</body></html>
